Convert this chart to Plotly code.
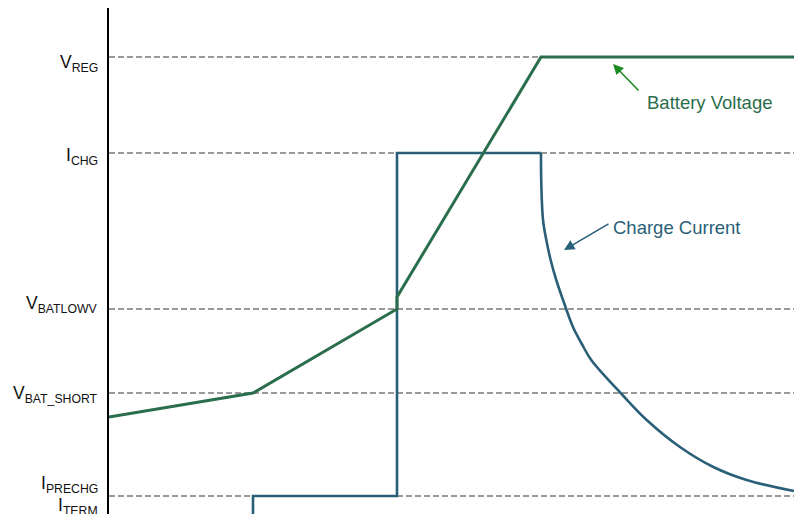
import plotly.graph_objects as go

# ---- data (time in arbitrary units, level in arbitrary units) ----
level_names = ["V<sub>REG</sub>", "I<sub>CHG</sub>", "V<sub>BATLOWV</sub>",
               "V<sub>BAT_SHORT</sub>", "I<sub>PRECHG</sub>", "I<sub>TERM</sub>"]
level_values = [457, 361, 205, 121, 18, -4]

battery_t = [0.0, 1.0, 2.0, 2.0, 3.0, 4.757]
battery_v = [97, 121, 205, 217, 457, 457]

current_step_t = [1.0, 1.0, 2.0, 2.0, 3.0]
current_step_i = [-10, 18, 18, 361, 361]

current_taper_t = [3.0, 3.002, 3.014, 3.037, 3.067, 3.106, 3.153, 3.222, 3.280,
                   3.349, 3.566, 3.734, 3.965, 4.197, 4.428, 4.757]
current_taper_i = [361, 331, 294, 274, 254, 234, 214, 187, 171,
                   154, 119, 94, 67, 47, 34, 23]

# ---- styles ----
GREEN = "#2b6e4c"
BLUE = "#2a5f78"
ARROW_GREEN = "#1e8a22"
FONT = "Liberation Sans, Arial, sans-serif"
X_RANGE = [0, 4.757]
Y_RANGE = [0, 506]
label_shift = [-6, -3, 5, -1, 12, 12]

fig = go.Figure()
fig.add_trace(go.Scatter(x=current_step_t, y=current_step_i, mode="lines",
                         line=dict(color=BLUE, width=2.6), hoverinfo="skip",
                         showlegend=False))
fig.add_trace(go.Scatter(x=current_taper_t, y=current_taper_i, mode="lines",
                         line=dict(color=BLUE, width=2.6, shape="spline", smoothing=1.0),
                         hoverinfo="skip", showlegend=False))
fig.add_trace(go.Scatter(x=battery_t, y=battery_v, mode="lines",
                         line=dict(color=GREEN, width=3), hoverinfo="skip",
                         showlegend=False))

shapes = []
annotations = []
for name, val, sh in zip(level_names, level_values, label_shift):
    shapes.append(dict(type="line", xref="paper", x0=0, x1=1, yref="y", y0=val, y1=val,
                       line=dict(color="#7a7a7a", width=1.5, dash="6px,3px"), layer="below"))
    annotations.append(dict(xref="paper", x=0, xanchor="right", xshift=-9,
                            yref="paper", y=(val - Y_RANGE[0]) / (Y_RANGE[1] - Y_RANGE[0]),
                            yanchor="middle", yshift=sh, text=name, showarrow=False,
                            font=dict(family=FONT, size=17.5, color="#111111")))

annotations += [
    dict(x=4.167, y=412, xref="x", yref="y", text="Battery Voltage", showarrow=False,
         font=dict(family=FONT, size=18.5, color=GREEN)),
    dict(x=3.944, y=287, xref="x", yref="y", text="Charge Current", showarrow=False,
         font=dict(family=FONT, size=18.5, color=BLUE)),
    dict(x=3.5, y=450, xref="x", yref="y", text="", showarrow=True, ax=27, ay=28,
         arrowhead=2, arrowsize=1.3, arrowwidth=1.6, arrowcolor=ARROW_GREEN, standoff=0),
    dict(x=3.160, y=264, xref="x", yref="y", text="", showarrow=True, ax=46, ay=-27,
         arrowhead=2, arrowsize=1.3, arrowwidth=1.6, arrowcolor=BLUE, standoff=0),
]

fig.update_layout(
    width=794, height=514,
    margin=dict(l=109, r=0, t=8, b=0),
    paper_bgcolor="white", plot_bgcolor="white",
    shapes=shapes, annotations=annotations,
    xaxis=dict(range=X_RANGE, showgrid=False, zeroline=False, showticklabels=False,
               showline=False, ticks=""),
    yaxis=dict(range=Y_RANGE, showgrid=False, zeroline=False, showticklabels=False,
               showline=True, linecolor="black", linewidth=2, ticks=""),
)

# remove the default page margin so the figure fills the window exactly
fig.write_html("out.html",
               config={"displayModeBar": False},
               post_script="document.body.style.margin='0';document.body.style.overflow='hidden';")
